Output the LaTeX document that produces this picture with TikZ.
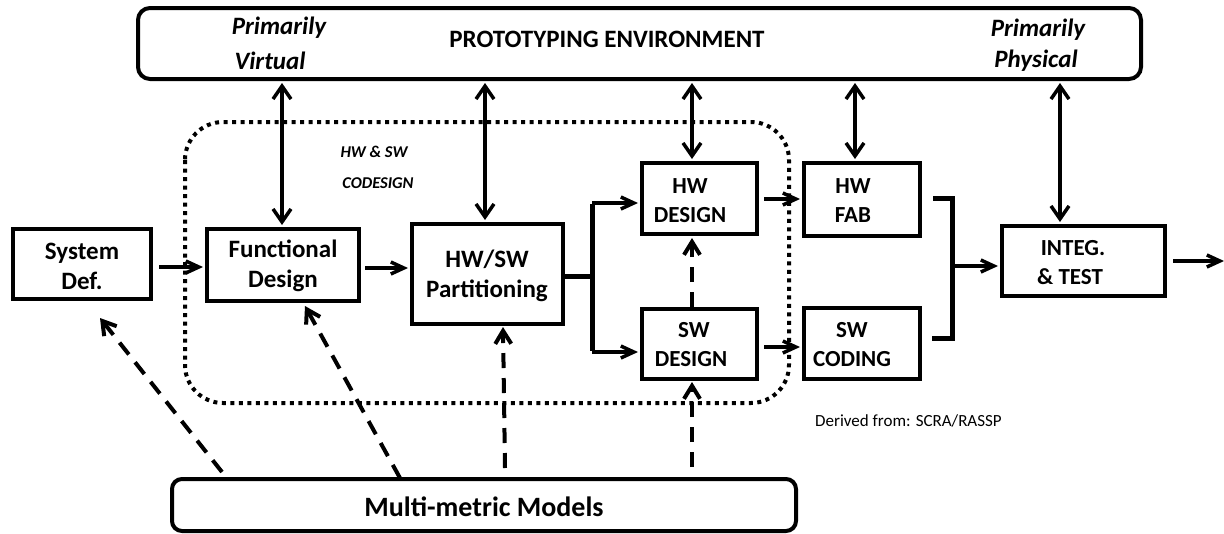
\documentclass[tikz,border=0pt]{standalone}
\usepackage{fontspec}
\setmainfont{Carlito}
\usetikzlibrary{arrows.meta}
\begin{document}
\begin{tikzpicture}[x=1pt,y=-1pt,
  box/.style={draw, line width=4pt, rectangle, inner sep=0pt},
  rbox/.style={draw, line width=4pt, rectangle, rounded corners=12pt, inner sep=0pt},
  btxt/.style={font=\bfseries\fontsize{25}{30}\selectfont, align=center, inner sep=0pt},
  stxt/.style={font=\bfseries\fontsize{23}{29}\selectfont, align=center, inner sep=0pt},
  itxt/.style={font=\bfseries\itshape\fontsize{25}{30}\selectfont, inner sep=0pt},
  ctxt/.style={font=\bfseries\itshape\fontsize{16.5}{20}\selectfont, inner sep=0pt},
  dbl/.style={line width=3.5pt, {Straight Barb[length=13pt,width=18pt]}-{Straight Barb[length=13pt,width=18pt]}, shorten <=2pt, shorten >=2pt},
  arr/.style={line width=3.5pt, -{Straight Barb[length=13pt,width=12pt]}, shorten >=2pt},
  darr/.style={line width=4pt, dash pattern=on 15pt off 10pt, -{Straight Barb[length=13pt,width=16pt]}},
  brk/.style={line width=5pt},
  dotbox/.style={line width=4pt, dash pattern=on 4pt off 4.5pt, rounded corners=38pt}
]
\useasboundingbox (0,0) rectangle (1224,533);

% top environment box
\node[rbox, minimum width=1003pt, minimum height=71pt] (env) at (639.5,43.5) {};
\node[btxt] (envt) at (607,39) {PROTOTYPING ENVIRONMENT};
\node[itxt] (pv1) at (279,28) {Primarily};
\node[itxt] (pv2) at (270,61) {Virtual};
\node[itxt] (pp1) at (1038,30) {Primarily};
\node[itxt] (pp2) at (1036,61) {Physical};

% codesign dotted region
\draw[dotbox] (185,122) rectangle (789,403);
\node[ctxt] (cd1) at (374,152) {HW \& SW};
\node[ctxt] (cd2) at (378,183) {CODESIGN};

% boxes
\node[box, minimum width=138pt, minimum height=70pt] (sys) at (82,264) {};
\node[btxt] (syst) at (82,266) {System\\Def.};
\node[box, minimum width=152pt, minimum height=72pt] (func) at (283,265) {};
\node[btxt] (funct) at (283,266) {Functional\\Design};
\node[box, minimum width=151pt, minimum height=100pt] (part) at (487.5,274) {};
\node[btxt] (partt) at (487,276) {HW/SW\\Partitioning};
\node[box, minimum width=115pt, minimum height=71pt] (hwd) at (699.5,198.5) {};
\node[stxt] (hwdt) at (690,200.5) {HW\\DESIGN};
\node[box, minimum width=115pt, minimum height=70pt] (swd) at (699.5,344) {};
\node[stxt] (swdt) at (691,344.5) {\hspace*{6pt}SW\\DESIGN};
\node[box, minimum width=116pt, minimum height=73pt] (hwf) at (862,199.5) {};
\node[stxt] (hwft) at (853,200.5) {HW\\FAB};
\node[box, minimum width=116pt, minimum height=71pt] (swc) at (862,343.5) {};
\node[stxt] (swct) at (852,344.5) {SW\\CODING};
\node[box, minimum width=163pt, minimum height=70pt] (integ) at (1083.5,261) {};
\node[stxt] (integt) at (1070,262.5) {\hspace*{6pt}INTEG.\\\& TEST};

% bottom models box
\node[rbox, rounded corners=10pt, minimum width=624pt, minimum height=52pt] (multi) at (484,505) {};
\node[btxt, font=\bfseries\fontsize{28}{32}\selectfont] (multit) at (484,507) {Multi-metric Models};

\node[font=\fontsize{17}{20}\selectfont, anchor=west, inner sep=0pt] (derived) at (815,421) {Derived from: SCRA/RASSP};

% vertical double arrows from environment
\coordinate (xa) at (282,0);
\coordinate (xb) at (485,0);
\coordinate (xc) at (692,0);
\coordinate (xd) at (855,0);
\coordinate (xe) at (1060,0);
\draw[dbl] (env.south -| xa) -- (func.north -| xa);
\draw[dbl] (env.south -| xb) -- (part.north -| xb);
\draw[dbl] (env.south -| xc) -- (hwd.north -| xc);
\draw[dbl] (env.south -| xd) -- (hwf.north -| xd);
\draw[dbl] (env.south -| xe) -- (integ.north -| xe);

% main flow
\draw[arr] ([xshift=6pt]sys.east |- 0,267) -- (func.west |- 0,267);
\draw[arr] ([xshift=4pt]func.east |- 0,268) -- (part.west |- 0,268);

\coordinate (jn) at (592,276);
\coordinate (jt) at (592,203);
\coordinate (jb) at (592,352);
\draw[brk] ([xshift=-4pt]part.east |- jn) -- (jn);
\draw[brk] ([yshift=-1pt]jt) -- ([yshift=1pt]jb);
\draw[arr] (jt) -- (hwd.west |- jt);
\draw[arr] (jb) -- (swd.west |- jb);

\draw[arr] ([xshift=5pt]hwd.east |- 0,199) -- (hwf.west |- 0,199);
\draw[arr] ([xshift=5pt]swd.east |- 0,347) -- (swc.west |- 0,347);

\coordinate (kt) at (952,198);
\coordinate (kb) at (952,338);
\coordinate (km) at (952,266);
\draw[brk] ([xshift=11pt]hwf.east |- kt) -- (kt) -- (kb) -- ([xshift=10pt]swc.east |- kb);
\draw[arr] (km) -- (integ.west |- km);
\coordinate (out) at (1224,261);
\draw[arr, shorten >=0pt] ([xshift=6pt]integ.east) -- (out);

% dashed model arrows
\coordinate (m1) at (222,472);
\coordinate (m1e) at (100,318);
\coordinate (m2) at (400,478);
\coordinate (m2e) at (305,306);
\coordinate (m3) at (505,468);
\coordinate (m3e) at (503,327);
\coordinate (m4) at (692,467);
\coordinate (m4e) at (692,382);
\draw[darr] (m1) -- (m1e);
\draw[darr] (m2) -- (m2e);
\draw[darr] (m3) -- (m3e);
\draw[darr] (m4) -- (m4e);
\draw[darr, shorten >=2pt] (swd.north -| xc) -- (hwd.south -| xc);
\end{tikzpicture}
\end{document}
